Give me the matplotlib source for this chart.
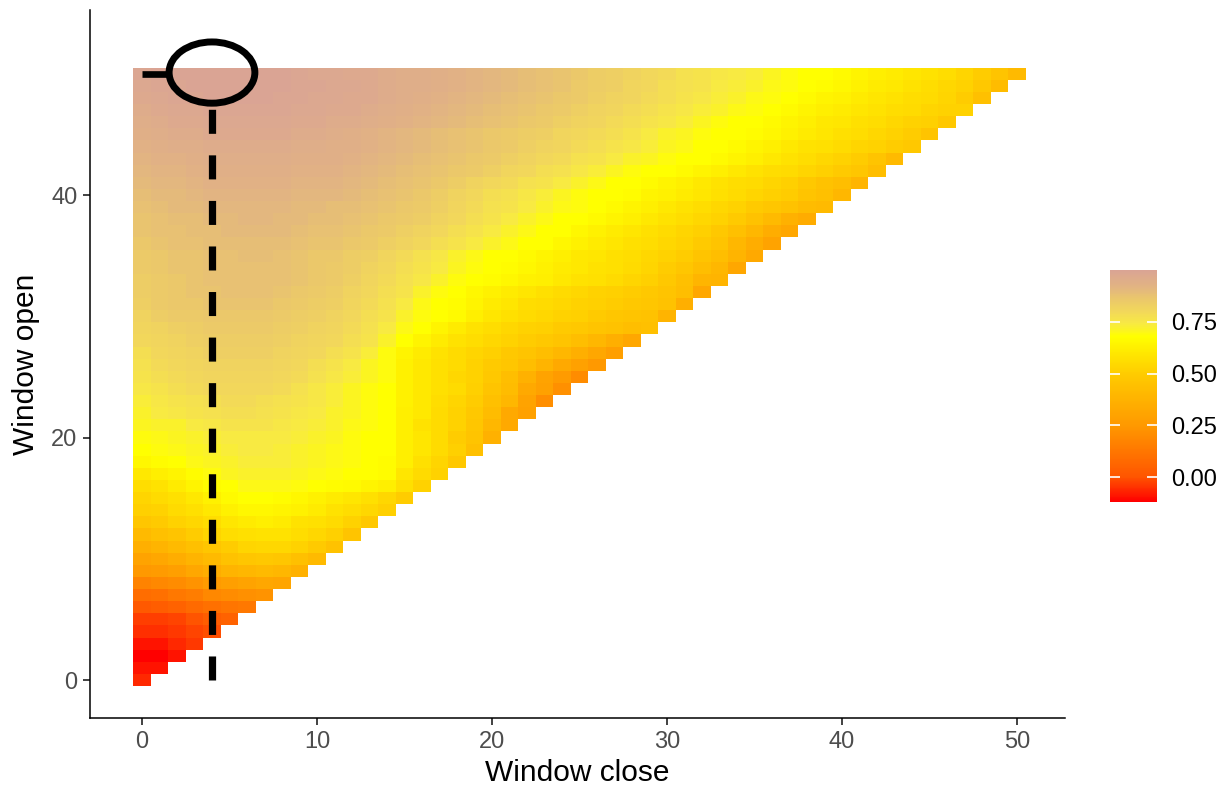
import numpy as np
import matplotlib.pyplot as plt
from matplotlib.colors import LinearSegmentedColormap
from matplotlib.patches import Ellipse

plt.rcParams['font.family'] = ['Liberation Sans', 'DejaVu Sans']
plt.rcParams['lines.scale_dashes'] = False

# model value (x100) per window; row index = window open (0..50),
# entry index = window close (0..open)
rows = [
    "-6",
    "-9 -9",
    "-12 -12 -9",
    "-9 -9 -6 -4",
    "-5 -5 -4 -2 -1",
    "-3 -3 -2 0 3 5",
    "2 3 5 8 10 12 13",
    "9 10 13 15 19 20 22 23",
    "17 19 20 23 26 28 30 32 31",
    "25 26 28 32 35 38 40 41 40 37",
    "30 32 35 38 41 45 47 48 47 44 41",
    "36 38 41 44 47 50 53 54 54 52 49 45",
    "41 44 46 50 53 56 57 58 58 56 54 51 46",
    "47 49 52 54 56 59 61 62 61 58 57 55 52 48",
    "51 52 55 57 60 63 65 65 64 63 61 58 56 54 51",
    "53 55 57 60 63 66 68 68 67 65 63 61 59 57 54 50",
    "56 58 61 64 67 68 70 70 70 69 68 67 66 64 62 57 52",
    "60 62 64 67 69 71 72 72 72 71 70 69 68 68 67 59 55 52",
    "65 67 68 70 71 72 73 73 73 72 71 70 69 68 67 62 57 53 48",
    "68 69 70 71 72 73 74 74 73 72 71 70 69 68 68 62 59 55 51 44",
    "69 70 71 72 73 74 74 74 74 73 72 71 69 68 68 62 59 55 50 46 37",
    "71 72 72 74 75 76 76 76 75 74 73 72 70 69 68 62 58 55 52 47 40 33",
    "72 74 75 76 77 78 78 77 76 75 74 72 71 69 68 62 60 55 52 48 42 33 29",
    "73 75 76 77 78 79 79 78 77 76 75 73 71 69 68 63 60 56 53 50 44 40 30 21",
    "75 76 78 79 80 80 80 80 79 77 75 73 71 69 68 63 60 57 55 51 46 42 33 29 22",
    "76 78 79 80 81 81 81 81 80 79 77 75 73 71 69 63 60 57 54 52 48 43 37 30 26 20",
    "77 79 80 81 82 82 82 82 81 80 78 76 74 71 69 63 60 57 55 52 49 47 43 38 33 29 25",
    "78 80 81 82 83 83 83 83 82 81 80 78 76 73 69 64 61 58 55 53 51 48 46 43 40 36 32 28",
    "80 81 82 83 84 84 84 84 83 82 81 80 78 76 72 68 64 61 58 56 54 52 50 48 46 43 40 36 32",
    "81 82 83 84 85 85 85 85 84 83 82 81 79 77 74 70 68 64 61 58 56 54 52 51 49 48 46 45 43 44",
    "82 84 85 85 86 86 86 86 85 84 83 82 80 78 76 72 69 68 66 62 59 57 55 54 52 51 49 47 46 45 38",
    "83 85 86 86 87 87 87 87 86 85 84 83 81 79 77 74 70 68 67 64 61 59 56 55 54 52 51 50 48 47 45 36",
    "84 85 86 87 87 88 88 88 87 86 85 84 82 80 78 76 72 69 68 65 63 61 59 57 55 54 52 51 50 48 46 43 32",
    "84 85 86 87 88 88 88 88 88 87 86 85 83 81 79 77 75 72 69 68 67 65 63 62 60 58 57 55 53 51 48 44 39 38",
    "85 86 87 87 88 88 88 88 88 87 86 85 84 82 80 78 76 74 71 69 68 67 65 63 61 60 58 57 55 53 50 47 43 40 32",
    "85 86 87 87 88 88 89 89 88 87 86 86 84 83 81 79 77 75 72 70 68 68 66 64 62 60 59 57 56 54 52 50 46 43 38 33",
    "86 87 88 88 89 89 89 89 89 88 87 87 86 85 83 82 80 78 76 74 72 70 68 68 65 63 61 59 57 56 54 52 49 46 40 35 30",
    "87 88 88 89 89 90 90 90 90 89 88 88 87 86 85 83 82 80 78 76 74 72 70 68 68 65 63 61 59 57 55 53 51 48 44 40 35 32",
    "87 88 89 89 90 90 91 91 90 90 89 89 88 87 86 85 84 82 80 78 76 74 72 70 68 68 66 64 62 60 58 56 54 52 49 45 41 37 34",
    "88 89 90 90 91 91 91 91 91 90 90 89 89 88 87 86 85 83 81 79 77 76 74 72 70 69 68 66 64 62 60 58 56 54 52 49 47 45 42 41",
    "89 90 90 91 92 92 92 92 92 91 91 91 90 89 88 87 86 84 82 80 78 77 75 73 71 69 68 68 67 64 63 61 59 57 55 53 51 50 46 44 40",
    "90 91 91 92 93 93 93 93 93 92 92 92 91 90 89 88 87 86 84 82 80 79 77 76 74 72 70 68 68 66 64 62 60 58 56 55 53 51 48 45 43 39",
    "91 92 92 93 94 94 94 94 94 93 93 93 92 91 90 89 88 87 86 85 83 81 80 78 77 75 73 71 69 68 68 66 64 62 60 58 56 55 53 51 49 47 43",
    "92 93 93 94 95 95 95 95 95 94 94 94 93 92 91 90 89 88 87 86 85 83 82 80 79 77 76 74 72 71 69 68 68 66 64 62 60 58 56 54 52 50 46 41",
    "93 94 95 95 96 96 96 96 96 95 95 94 94 93 92 91 90 89 88 87 86 85 83 82 81 79 78 76 75 73 71 70 68 68 66 64 62 60 58 57 55 53 52 50 48",
    "94 95 96 96 97 97 97 97 97 96 96 95 94 93 92 91 90 89 88 87 86 85 84 83 81 80 79 78 76 74 72 71 69 68 68 67 65 63 61 59 57 56 54 52 50 46",
    "95 96 97 97 98 98 98 98 98 97 97 96 96 95 94 93 92 91 90 89 88 87 86 85 83 82 81 79 78 76 75 73 71 69 68 68 66 64 62 60 59 57 56 54 52 51 48",
    "96 97 98 98 99 99 99 99 99 98 98 97 97 96 95 94 93 92 91 90 89 88 87 86 85 83 82 81 79 78 76 75 73 72 70 69 68 66 64 62 61 59 58 56 55 53 52 52",
    "97 98 99 99 100 100 100 100 99 99 98 98 97 97 96 95 94 93 92 91 90 89 88 87 86 85 83 82 81 79 78 76 75 73 72 70 69 68 66 64 63 61 59 58 56 55 53 50 44",
    "98 99 99 100 100 100 100 100 100 99 99 98 98 97 96 95 95 94 93 92 91 90 89 88 87 85 84 83 81 80 78 77 76 74 73 72 70 69 68 67 65 63 61 60 58 56 54 52 48 42",
    "99 100 100 100 100 100 100 100 100 99 98 98 97 97 96 95 95 94 93 92 91 90 89 88 87 86 84 83 82 80 79 77 76 75 74 73 71 69 68 68 66 64 62 61 59 58 56 53 50 46 41",
]

best_close = 4
best_open = 50
best_line_top = 47.3

vmin, vmax = -0.12, 1.0
cbar_ticks = [0.0, 0.25, 0.5, 0.75]

n = len(rows)
z = np.full((n, n), np.nan)
for o, row in enumerate(rows):
    vals = [int(v) / 100 for v in row.split()]
    assert len(vals) == o + 1, (o, len(vals))
    z[o, :o + 1] = vals

stops = [(-0.12, '#FF0000'), (0.0, '#FF5500'), (0.25, '#FF9900'),
         (0.5, '#FFCC00'), (0.68, '#FFFF00'), (0.74, '#F8EA42'),
         (0.80, '#F2D85A'), (0.86, '#EBC86A'), (0.92, '#E2B482'),
         (1.0, '#DAA494')]
cmap = LinearSegmentedColormap.from_list(
    'window', [((v - vmin) / (vmax - vmin), col) for v, col in stops])

fig = plt.figure(figsize=(12.26, 7.86), dpi=100)
ax = fig.add_axes([90 / 1226, 1 - 718 / 786, 975 / 1226, 708 / 786])

edges = np.arange(n + 1) - 0.5
mesh = ax.pcolormesh(edges, edges, np.ma.masked_invalid(z), cmap=cmap,
                     vmin=vmin, vmax=vmax, shading='flat',
                     edgecolors='none', antialiased=False)

# best window: dashed drop line, whisker and ring
ax.plot([best_close, best_close], [0, best_line_top], color='black', lw=5.2,
        linestyle=(0, (17.3, 15.5)), dash_capstyle='butt', zorder=3)
ax.plot([0, best_close - 2.45], [best_open, best_open], color='black', lw=4.8,
        solid_capstyle='butt', zorder=3)
ax.add_patch(Ellipse((best_close, best_open + 0.1), width=4.9, height=5.05,
                     fill=False, edgecolor='black', lw=5, zorder=4))

ax.set_xlim(-2.97, 52.74)
ax.set_ylim(-3.13, 55.26)
ax.set_xticks([0, 10, 20, 30, 40, 50])
ax.set_yticks([0, 20, 40])
for side in ['top', 'right']:
    ax.spines[side].set_visible(False)
for side in ['left', 'bottom']:
    ax.spines[side].set_linewidth(1.1)
ax.tick_params(length=5, width=1.3, color='#333333', labelsize=17,
               labelcolor='#4D4D4D', pad=4)
ax.set_xlabel('Window close', fontsize=21.5, labelpad=5)
ax.set_ylabel('Window open', fontsize=21.5, labelpad=8)

cax = fig.add_axes([1110 / 1226, 1 - 502 / 786, 47 / 1226, 232 / 786])
cb = fig.colorbar(mesh, cax=cax, ticks=cbar_ticks)
cb.outline.set_visible(False)
cb.ax.set_yticklabels(['%.2f' % t for t in cbar_ticks])
cb.ax.tick_params(direction='in', length=7, width=1.2, color='white',
                  left=True, right=True, labelsize=17, labelcolor='black',
                  pad=10)

fig.savefig('out.png', dpi=100)
